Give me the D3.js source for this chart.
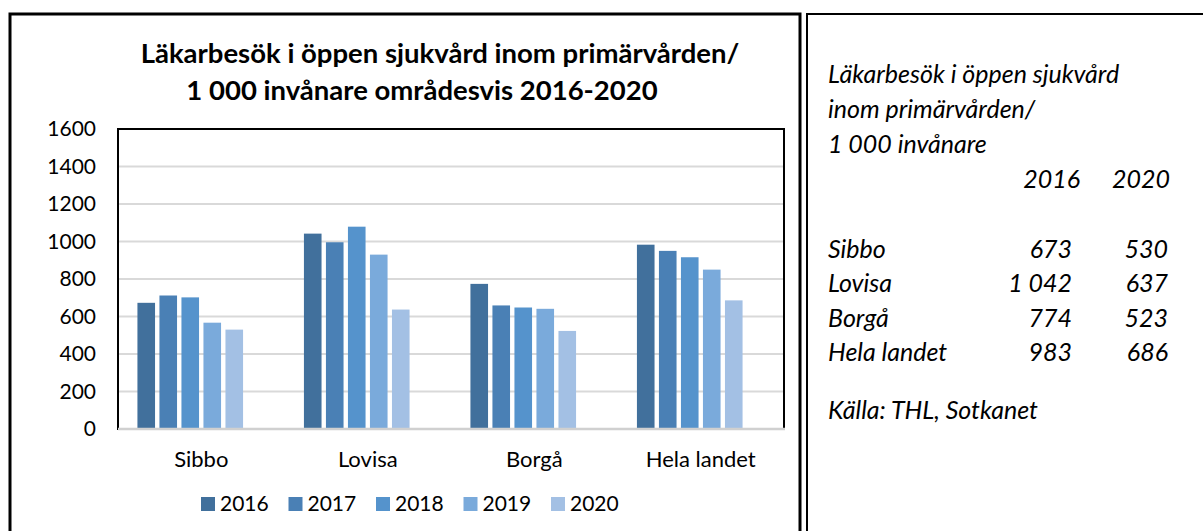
<!DOCTYPE html>
<html>
<head>
    <meta charset="utf-8">
    <title>Läkarbesök i öppen sjukvård</title>
    <script src="https://d3js.org/d3.v7.min.js"></script>
    <style>
        body { margin: 0; background: #fff; }
        svg { display: block; font-family: Lato, "Open Sans", sans-serif; }
    </style>
</head>
<body>
    <svg id="chart" width="1203" height="531"></svg>

    <script>
        // data
        const categories = ["Sibbo", "Lovisa", "Borgå", "Hela landet"];
        const years = ["2016", "2017", "2018", "2019", "2020"];
        const v2016 = [673, 1042, 774, 983];
        const v2017 = [712, 996, 659, 950];
        const v2018 = [702, 1079, 648, 916];
        const v2019 = [567, 930, 641, 850];
        const v2020 = [530, 637, 523, 686];
        const series = [v2016, v2017, v2018, v2019, v2020];
        const colors = ["#41709c", "#4a80b5", "#5593cc", "#7aaadb", "#a3c0e4"];
        const yTicks = [0, 200, 400, 600, 800, 1000, 1200, 1400, 1600];

        const titleLines = ["Läkarbesök i öppen sjukvård inom primärvården/", "1 000 invånare områdesvis 2016-2020"];
        const sideTitle = ["Läkarbesök i öppen sjukvård", "inom primärvården/", "1 000 invånare"];
        const tableYears = ["2016", "2020"];
        const source = "Källa: THL, Sotkanet";

        const svg = d3.select("#chart");

        // outer frames
        svg.append("rect").attr("x", 10).attr("y", 14).attr("width", 790).attr("height", 600)
            .attr("fill", "none").attr("stroke", "#000").attr("stroke-width", 3);
        svg.append("rect").attr("x", 807).attr("y", 14).attr("width", 420).attr("height", 600)
            .attr("fill", "none").attr("stroke", "#000").attr("stroke-width", 2);

        // plot area
        const plot = { left: 118, right: 784, top: 129, bottom: 429 };

        const y = d3.scaleLinear().domain([0, 1600]).range([plot.bottom, plot.top]);
        const x0 = d3.scaleBand().domain(categories).range([plot.left, plot.right])
            .paddingInner(0.207).paddingOuter(0.1035);
        // 6 slots per group, the last one stays empty (like in the original)
        const x1 = d3.scaleBand().domain(d3.range(6)).range([0, x0.bandwidth()])
            .paddingInner(0.2).paddingOuter(0.1);

        // gridlines
        svg.append("g").selectAll("line")
            .data(yTicks.filter(d => d > 0 && d < 1600))
            .join("line")
            .attr("x1", plot.left).attr("x2", plot.right)
            .attr("y1", d => y(d)).attr("y2", d => y(d))
            .attr("stroke", "#d9d9d9").attr("stroke-width", 2);

        // plot border
        svg.append("rect").attr("x", plot.left).attr("y", plot.top)
            .attr("width", plot.right - plot.left).attr("height", plot.bottom - plot.top)
            .attr("fill", "none").attr("stroke", "#000").attr("stroke-width", 2);

        // bars
        const groups = svg.append("g").selectAll("g")
            .data(series)
            .join("g")
            .attr("fill", (d, i) => colors[i]);

        groups.selectAll("rect")
            .data((vals, i) => vals.map((v, j) => ({ v: v, cat: categories[j], s: i })))
            .join("rect")
            .attr("x", d => x0(d.cat) + x1(d.s))
            .attr("width", x1.bandwidth())
            .attr("y", d => y(d.v))
            .attr("height", d => y(0) - y(d.v));

        // x axis line
        svg.append("line").attr("x1", plot.left).attr("x2", plot.right + 1)
            .attr("y1", plot.bottom).attr("y2", plot.bottom)
            .attr("stroke", "#d0d0d0").attr("stroke-width", 2.5);

        // y labels
        const yAxis = d3.axisLeft(y).tickValues(yTicks).tickFormat(d3.format("d")).tickSize(0).tickPadding(22);
        const gy = svg.append("g").attr("transform", `translate(${plot.left},0)`).call(yAxis);
        gy.select(".domain").remove();
        gy.selectAll("text").attr("font-size", 21).attr("fill", "#000")
            .attr("font-family", "Lato, sans-serif");

        // category labels
        const xAxis = d3.axisBottom(x0).tickSize(0).tickPadding(22);
        const gx = svg.append("g").attr("transform", `translate(0,${plot.bottom})`).call(xAxis);
        gx.select(".domain").remove();
        gx.selectAll("text").attr("font-size", 22).attr("fill", "#000")
            .attr("font-family", "Lato, sans-serif");

        // title
        const titleX = [440, 422];
        svg.append("g").selectAll("text")
            .data(titleLines)
            .join("text")
            .attr("x", (d, i) => titleX[i])
            .attr("y", (d, i) => 63 + i * 37)
            .attr("text-anchor", "middle")
            .attr("font-weight", "bold")
            .attr("font-size", 27.5)
            .text(d => d);

        // legend
        const legend = svg.append("g").selectAll("g")
            .data(years)
            .join("g")
            .attr("transform", (d, i) => `translate(${201 + i * 87.5},497)`);
        legend.append("rect").attr("width", 14).attr("height", 14).attr("fill", (d, i) => colors[i]);
        legend.append("text").attr("x", 19).attr("y", 14).attr("font-size", 21).text(d => d);

        // side panel
        const fmt = d3.formatLocale({ decimal: ",", thousands: " ", grouping: [3], currency: ["", ""] }).format(",d");
        const side = svg.append("g").attr("font-style", "italic").attr("font-size", 25);

        side.selectAll("text.st")
            .data(sideTitle)
            .join("text")
            .attr("class", "st")
            .attr("x", 828)
            .attr("y", (d, i) => 83 + i * 35)
            .text(d => d);

        const colX = [1080, 1170];
        side.selectAll("text.hy")
            .data(tableYears)
            .join("text")
            .attr("class", "hy")
            .attr("x", (d, i) => colX[i])
            .attr("y", 188)
            .attr("text-anchor", "end")
            .text(d => d);

        const rowY = d3.scalePoint().domain(categories).range([258, 361]);
        side.selectAll("text.rl")
            .data(categories)
            .join("text")
            .attr("class", "rl")
            .attr("x", 828)
            .attr("y", d => rowY(d))
            .text(d => d);

        const numX = [1072, 1168];
        [v2016, v2020].forEach((vals, k) => {
            side.selectAll("text.n" + k)
                .data(vals)
                .join("text")
                .attr("class", "n" + k)
                .attr("x", numX[k])
                .attr("y", (d, i) => rowY(categories[i]))
                .attr("text-anchor", "end")
                .text(d => fmt(d));
        });

        side.append("text").attr("x", 828).attr("y", 419).text(source);
    </script>
</body>
</html>
